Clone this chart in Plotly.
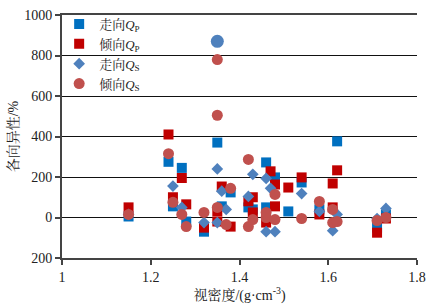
import plotly.graph_objects as go

# 走向Qp (blue squares)
qp_strike_x = [1.15, 1.24, 1.25, 1.27, 1.28, 1.32, 1.35, 1.36, 1.38, 1.42, 1.43, 1.46, 1.46, 1.48, 1.51, 1.54, 1.58, 1.62, 1.71, 1.73]
qp_strike_y = [5, 275, 55, 245, -20, -70, 370, 55, 124, 50, 40, 272, 50, 198, 30, 173, 40, 376, -50, 15]

# 倾向Qp (red squares)
qp_dip_x = [1.15, 1.24, 1.25, 1.27, 1.28, 1.32, 1.35, 1.35, 1.36, 1.38, 1.42, 1.43, 1.43, 1.46, 1.47, 1.48, 1.48, 1.51, 1.54, 1.58, 1.61, 1.61, 1.62, 1.71, 1.73]
qp_dip_y = [50, 410, 100, 195, 65, -50, 30, -20, 153, -45, 80, 100, 25, -25, 228, 163, 55, 148, 198, 15, 168, 50, 233, -75, -5]

# 走向Qs (blue diamonds)
qs_strike_x = [1.15, 1.25, 1.27, 1.32, 1.35, 1.36, 1.35, 1.37, 1.42, 1.43, 1.46, 1.47, 1.46, 1.48, 1.54, 1.58, 1.61, 1.62, 1.71, 1.73]
qs_strike_y = [15, 155, 50, -25, 240, 130, -25, 40, 104, 213, 193, 144, -70, -70, 118, 30, -65, 15, -5, 45]

# 倾向Qs (red circles)
qs_dip_x = [1.15, 1.24, 1.25, 1.27, 1.28, 1.32, 1.35, 1.35, 1.35, 1.37, 1.38, 1.42, 1.42, 1.43, 1.46, 1.46, 1.48, 1.48, 1.54, 1.58, 1.61, 1.61, 1.62, 1.71, 1.73]
qs_dip_y = [15, 315, 75, 15, -45, 25, 780, 505, 50, -35, 144, -45, 287, -10, 0, 25, 114, -10, -5, 79, 40, -25, -20, -15, 0]

# outlier (blue circle)
outlier_x = [1.35]
outlier_y = [870]

x_ticks = [1, 1.2, 1.4, 1.6, 1.8]
x_tick_labels = ["1", "1.2", "1.4", "1.6", "1.8"]
y_ticks = [-200, 0, 200, 400, 600, 800, 1000]
y_tick_labels = ["200", "0", "200", "400", "600", "800", "1000"]

FONT = "Liberation Serif, Times New Roman, Noto Serif CJK SC, Noto Sans CJK SC, serif"

fig = go.Figure()
fig.add_trace(go.Scatter(x=qp_strike_x, y=qp_strike_y, mode="markers", name="走向<i>Q</i><sub>P</sub>",
                         marker=dict(symbol="square", size=10, color="#0070C0")))
fig.add_trace(go.Scatter(x=qp_dip_x, y=qp_dip_y, mode="markers", name="倾向<i>Q</i><sub>P</sub>",
                         marker=dict(symbol="square", size=10, color="#C00000")))
fig.add_trace(go.Scatter(x=qs_strike_x, y=qs_strike_y, mode="markers", name="走向<i>Q</i><sub>S</sub>",
                         marker=dict(symbol="diamond", size=9, color="#4F81BD")))
fig.add_trace(go.Scatter(x=qs_dip_x, y=qs_dip_y, mode="markers", name="倾向<i>Q</i><sub>S</sub>",
                         marker=dict(symbol="circle", size=11, color="#C0504D")))
fig.add_trace(go.Scatter(x=outlier_x, y=outlier_y, mode="markers", showlegend=False,
                         marker=dict(symbol="circle", size=13, color="#4F81BD")))

fig.update_layout(
    width=439, height=304,
    margin=dict(l=62, r=22, t=15, b=46, autoexpand=False),
    paper_bgcolor="white", plot_bgcolor="white",
    hovermode=False,
    font=dict(family=FONT, size=14, color="#222"),
    legend=dict(x=-0.008, y=1.025, xanchor="left", yanchor="top", bgcolor="rgba(0,0,0,0)",
                font=dict(family=FONT, size=13), tracegroupgap=0, itemwidth=30),
    xaxis=dict(range=[1, 1.8], tickvals=x_ticks, ticktext=x_tick_labels, showgrid=False,
               zeroline=False, showline=True, linecolor="#444", linewidth=2, mirror=True,
               ticks="outside", ticklen=5, tickcolor="#444", tickwidth=1.5, automargin=False,
               title=dict(text="视密度/(g·cm<sup>-3</sup>)", standoff=2, font=dict(size=14))),
    yaxis=dict(range=[-200, 1000], tickvals=y_ticks, ticktext=y_tick_labels, showgrid=True,
               gridcolor="#111", gridwidth=1.3, zeroline=False, showline=True, linecolor="#444",
               linewidth=2, ticks="outside", ticklen=5, tickcolor="#444", tickwidth=1.5,
               automargin=False,
               title=dict(text="各向异性/%", standoff=2, font=dict(size=14))),
)

fig.write_html("out.html", config={"displayModeBar": False},
               post_script="document.body.style.margin='0';document.body.style.overflow='hidden';")
